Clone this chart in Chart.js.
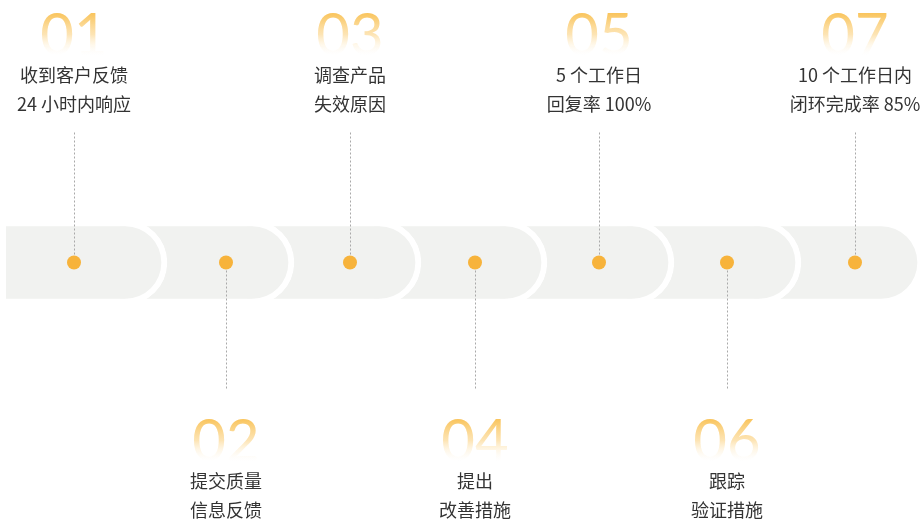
<!DOCTYPE html>
<html>
<head>
<meta charset="utf-8">
<script src="https://cdn.jsdelivr.net/npm/chart.js@4/dist/chart.umd.min.js"></script>
<style>
html, body { margin: 0; padding: 0; background: #fff; }
#wrap { width: 921px; height: 522px; position: relative; }
</style>
</head>
<body>
<div id="wrap"><canvas id="steps"></canvas></div>
<script>
// process steps, read left to right
const stepNums = ["01", "02", "03", "04", "05", "06", "07"];
const stepLine1 = ["收到客户反馈", "提交质量", "调查产品", "提出", "5 个工作日", "跟踪", "10 个工作日内"];
const stepLine2 = ["24 小时内响应", "信息反馈", "失效原因", "改善措施", "回复率 100%", "验证措施", "闭环完成率 85%"];
const stepSide = ["up", "down", "up", "down", "up", "down", "up"];
// positions along the track
const dotPos = [74, 226, 350, 475, 599, 727, 855];
const segStart = [6, 120, 247, 374, 500, 627, 754];
const segEnd = [167, 294, 421, 547, 674, 801, 923];

const ORANGE = '#f7b33b';
const GRAY = '#f1f2f0';

const stepLabels = {
    id: 'stepLabels',
    afterDatasetsDraw(chart) {
        const ctx = chart.ctx;
        const x = chart.scales.x, y = chart.scales.y;
        const yc = y.getPixelForValue(0);
        ctx.save();
        dotPos.forEach((v, i) => {
            const px = Math.round(x.getPixelForValue(v));
            const up = stepSide[i] === 'up';

            // dotted connector
            ctx.strokeStyle = '#a9a9a9';
            ctx.lineWidth = 1;
            ctx.setLineDash([2, 2]);
            ctx.beginPath();
            ctx.moveTo(px + 0.5, up ? yc - 130 : yc + 8);
            ctx.lineTo(px + 0.5, up ? yc - 8 : yc + 128);
            ctx.stroke();
            ctx.setLineDash([]);

            // big faded number
            const nTop = up ? yc - 250 : yc + 156;
            const g = ctx.createLinearGradient(0, nTop, 0, nTop + 44);
            g.addColorStop(0, 'rgba(249,192,80,0.95)');
            g.addColorStop(0.5, 'rgba(251,210,130,0.6)');
            g.addColorStop(1, 'rgba(255,255,255,0)');
            ctx.fillStyle = g;
            ctx.font = '400 58px Lato, "Noto Sans", sans-serif';
            ctx.textAlign = 'center';
            ctx.textBaseline = 'alphabetic';
            ctx.fillText(stepNums[i], px, nTop + 42);

            // description
            ctx.fillStyle = '#333333';
            ctx.font = '18px "Noto Sans CJK SC", "Noto Sans", sans-serif';
            ctx.textBaseline = 'middle';
            const l1 = up ? yc - 187 : yc + 219;
            ctx.fillText(stepLine1[i], px, l1);
            ctx.fillText(stepLine2[i], px, l1 + 29);
        });
        ctx.restore();
    }
};

const segSets = segStart.map((s, i) => ({
    type: 'bar',
    data: [[s, segEnd[i]]],
    backgroundColor: GRAY,
    borderColor: '#ffffff',
    borderWidth: 6,
    borderRadius: 42,
    borderSkipped: 'start',
    barThickness: 84,
    grouped: false,
    order: i + 1
}));

new Chart(document.getElementById("steps"), {
    type: 'bar',
    data: {
        labels: ['track'],
        datasets: [{
            type: 'scatter',
            data: dotPos.map(v => ({ x: v, y: 'track' })),
            backgroundColor: ORANGE,
            borderWidth: 0,
            pointRadius: 7,
            order: 0
        }].concat(segSets)
    },
    options: {
        indexAxis: 'y',
        responsive: true,
        maintainAspectRatio: false,
        animation: false,
        events: [],
        layout: { autoPadding: false, padding: { top: 3, left: 0, right: 0, bottom: 0 } },
        scales: {
            x: { type: 'linear', min: 0, max: 921, offset: false, display: false },
            y: { type: 'category', labels: ['track'], offset: true, display: false }
        },
        plugins: {
            legend: { display: false },
            tooltip: { enabled: false }
        }
    },
    plugins: [stepLabels]
});
</script>
</body>
</html>
